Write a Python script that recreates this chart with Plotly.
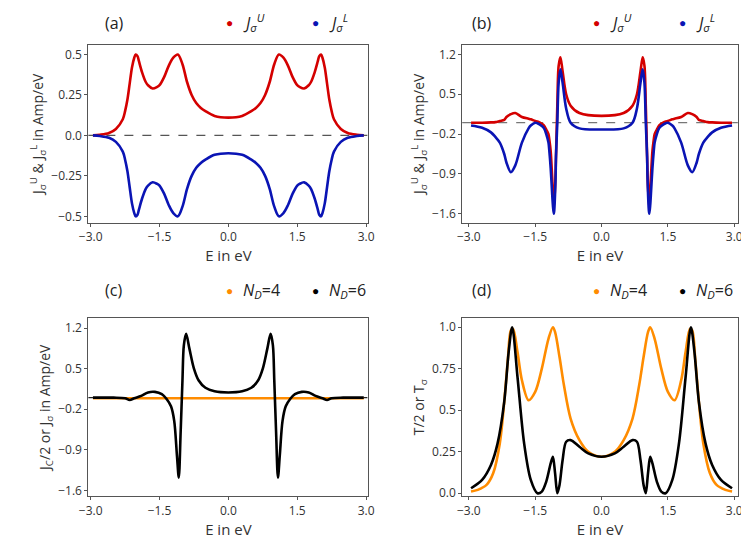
import plotly.graph_objects as go

# energies (eV) and values, panel by panel
e_a = [-2.95, -2.8, -2.6, -2.45, -2.3, -2.25, -2.2, -2.15, -2.1, -2.05, -2.02, -1.98, -1.95, -1.88, -1.8, -1.75,
       -1.65, -1.55, -1.5, -1.4, -1.3, -1.2, -1.1, -1.0, -0.9, -0.8, -0.7, -0.6, -0.5, -0.3, 0.0,
       0.3, 0.5, 0.6, 0.7, 0.8, 0.9, 1.0, 1.1, 1.2, 1.3, 1.4, 1.5, 1.55, 1.65, 1.75, 1.8, 1.88,
       1.95, 1.98, 2.02, 2.05, 2.1, 2.15, 2.2, 2.25, 2.3, 2.45, 2.6, 2.8, 2.95]
ju_a = [0.0, 0.004, 0.015, 0.04, 0.10, 0.15, 0.22, 0.32, 0.42, 0.48, 0.50, 0.49, 0.46, 0.39, 0.33, 0.31,
        0.29, 0.30, 0.31, 0.36, 0.43, 0.48, 0.50, 0.44, 0.33, 0.25, 0.20, 0.17, 0.15, 0.12, 0.11,
        0.12, 0.15, 0.17, 0.20, 0.25, 0.33, 0.44, 0.50, 0.48, 0.43, 0.36, 0.31, 0.30, 0.29, 0.31,
        0.33, 0.39, 0.46, 0.49, 0.50, 0.48, 0.42, 0.32, 0.22, 0.15, 0.10, 0.04, 0.015, 0.004, 0.0]
jl_a = [-v for v in ju_a]

e_b = [-2.95, -2.7, -2.5, -2.4, -2.3, -2.2, -2.15, -2.05, -1.95, -1.8, -1.65, -1.6, -1.5, -1.45,
       -1.35, -1.3, -1.25, -1.2, -1.18, -1.15, -1.12, -1.1, -1.08, -1.07, -1.04, -1.03, -1.0,
       -0.97, -0.93, -0.88, -0.8, -0.7, -0.5, 0.0, 0.5, 0.7, 0.8, 0.88, 0.93, 0.97, 1.0, 1.03,
       1.04, 1.07, 1.08, 1.1, 1.12, 1.15, 1.18, 1.2, 1.25, 1.3, 1.35, 1.45, 1.5, 1.6, 1.65, 1.8,
       1.95, 2.05, 2.15, 2.2, 2.3, 2.4, 2.5, 2.7, 2.95]
ju_b = [0.0, 0.0, 0.005, 0.01, 0.03, 0.05, 0.10, 0.15, 0.17, 0.10, 0.07, 0.06, 0.03, 0.02,
        -0.02, -0.05, -0.12, -0.2, -0.3, -0.5, -0.9, -1.2, -1.38, -1.45, -0.9, -0.6, 0.3,
        1.0, 1.15, 0.9, 0.5, 0.3, 0.17, 0.12, 0.17, 0.3, 0.5, 0.9, 1.15, 1.0, 0.3, -0.6,
        -0.9, -1.45, -1.38, -1.2, -0.9, -0.5, -0.3, -0.2, -0.12, -0.05, -0.02, 0.02, 0.03, 0.06, 0.07, 0.10,
        0.17, 0.15, 0.10, 0.05, 0.03, 0.01, 0.005, 0.0, 0.0]
jl_b = [-0.05, -0.09, -0.17, -0.25, -0.35, -0.55, -0.7, -0.87, -0.75, -0.35, -0.1, -0.05, 0.0, -0.01,
        -0.06, -0.1, -0.2, -0.35, -0.5, -0.8, -1.2, -1.45, -1.6, -1.55, -1.0, -0.6, 0.0,
        0.7, 0.94, 0.7, 0.25, 0.0, -0.1, -0.12, -0.1, 0.0, 0.25, 0.7, 0.94, 0.7, 0.0, -0.6,
        -1.0, -1.55, -1.6, -1.45, -1.2, -0.8, -0.5, -0.35, -0.2, -0.1, -0.06, -0.01, 0.0, -0.05, -0.1, -0.35,
        -0.75, -0.87, -0.7, -0.55, -0.35, -0.25, -0.17, -0.09, -0.05]

e_c = [-2.95, -2.5, -2.25, -2.15, -2.05, -1.9, -1.75, -1.6, -1.45, -1.35, -1.25, -1.18, -1.12,
       -1.08, -1.04, -1.0, -0.97, -0.92, -0.85, -0.75, -0.65, -0.5, -0.3, 0.0, 0.3, 0.5, 0.65,
       0.75, 0.85, 0.92, 0.97, 1.0, 1.04, 1.08, 1.12, 1.18, 1.25, 1.35, 1.45, 1.6, 1.75, 1.9,
       2.05, 2.15, 2.25, 2.5, 2.95]
jc_nd6 = [0.0, 0.0, -0.01, -0.04, -0.01, 0.03, 0.09, 0.10, 0.06, -0.02, -0.15, -0.4, -1.0,
          -1.38, -0.6, 0.3, 0.9, 1.1, 0.85, 0.5, 0.3, 0.17, 0.11, 0.09, 0.11, 0.17, 0.3,
          0.5, 0.85, 1.1, 0.9, 0.3, -0.6, -1.38, -1.0, -0.4, -0.15, -0.02, 0.06, 0.10, 0.09, 0.03,
          -0.01, -0.04, -0.01, 0.0, 0.0]
jc_nd4 = [-0.01] * len(e_c)

e_d4 = [-2.95, -2.8, -2.6, -2.45, -2.3, -2.2, -2.12, -2.05, -2.0, -1.9, -1.8, -1.65, -1.5, -1.35,
        -1.2, -1.1, -1.05, -0.95, -0.85, -0.7, -0.5, -0.3, 0.0, 0.3, 0.5, 0.7, 0.85, 0.95, 1.05,
        1.1, 1.2, 1.35, 1.5, 1.65, 1.8, 1.9, 2.0, 2.05, 2.12, 2.2, 2.3, 2.45, 2.6, 2.8, 2.95]
t_nd4 = [0.01, 0.02, 0.05, 0.12, 0.3, 0.55, 0.8, 0.98, 0.99, 0.85, 0.68, 0.56, 0.61, 0.75,
         0.93, 1.0, 0.97, 0.82, 0.65, 0.45, 0.32, 0.25, 0.22, 0.25, 0.32, 0.45, 0.65, 0.82, 0.97,
         1.0, 0.93, 0.75, 0.61, 0.56, 0.68, 0.85, 0.99, 0.98, 0.8, 0.55, 0.3, 0.12, 0.05, 0.02, 0.01]

e_d6 = [-2.95, -2.7, -2.5, -2.35, -2.2, -2.1, -2.02, -1.9, -1.75, -1.6, -1.45, -1.35, -1.25,
        -1.15, -1.1, -1.05, -1.0, -0.95, -0.88, -0.8, -0.7, -0.5, -0.3, 0.0, 0.3, 0.5, 0.7, 0.8,
        0.88, 0.95, 1.0, 1.05, 1.1, 1.15, 1.25, 1.35, 1.45, 1.6, 1.75, 1.9, 2.02, 2.1, 2.2,
        2.35, 2.5, 2.7, 2.95]
t_nd6 = [0.03, 0.08, 0.17, 0.3, 0.55, 0.85, 1.0, 0.7, 0.3, 0.08, 0.0, 0.01, 0.07,
         0.18, 0.22, 0.12, 0.0, 0.05, 0.2, 0.31, 0.32, 0.28, 0.24, 0.22, 0.24, 0.28, 0.32, 0.31,
         0.2, 0.05, 0.0, 0.12, 0.22, 0.18, 0.07, 0.01, 0.0, 0.08, 0.3, 0.7, 1.0, 0.85, 0.55,
         0.3, 0.17, 0.08, 0.03]

x_ticks = [-3.0, -1.5, 0.0, 1.5, 3.0]
RED, BLUE, ORANGE, BLACK = "#d40000", "#0a14b4", "#ff8c00", "#000000"
FONT = "Open Sans, Arial, sans-serif"

fig = go.Figure()
panels = [
    ("x", "y", [(e_a, ju_a, RED), (e_a, jl_a, BLUE)]),
    ("x2", "y2", [(e_b, ju_b, RED), (e_b, jl_b, BLUE)]),
    ("x3", "y3", [(e_c, jc_nd4, ORANGE), (e_c, jc_nd6, BLACK)]),
    ("x4", "y4", [(e_d4, t_nd4, ORANGE), (e_d6, t_nd6, BLACK)]),
]
for xa, ya, series in panels:
    for xs, ys, col in series:
        fig.add_trace(go.Scatter(x=xs, y=ys, xaxis=xa, yaxis=ya, mode="lines",
                                 line=dict(color=col, width=2.6, shape="spline", smoothing=0.9),
                                 showlegend=False, hoverinfo="skip"))

# dashed zero lines
for xa, ya, col in [("x", "y", "#555"), ("x2", "y2", "#777"), ("x3", "y3", "#222")]:
    fig.add_shape(type="line", xref=xa + " domain", yref=ya, x0=0, x1=1, y0=0, y1=0,
                  line=dict(color=col, width=1.2, dash="dash"), layer="below")

axis_common = dict(showgrid=False, zeroline=False, showline=True, mirror=True,
                   linecolor="#555", linewidth=1, ticks="outside", ticklen=3,
                   tickcolor="#555", tickfont=dict(size=12, color="#333", family=FONT))
xd_left, xd_right = [0.096, 0.478], [0.606, 0.982]
yd_top, yd_bot = [0.597, 0.931], [0.084, 0.418]
xtitle = dict(text="E in eV", font=dict(size=15, color="#333", family=FONT), standoff=4)
ytitle_ab = "J<sub>σ</sub><sup>U</sup> & J<sub>σ</sub><sup>L</sup> in Amp/eV"
ytitle_c = "J<sub>C</sub>/2 or J<sub>σ</sub> in Amp/eV"
ytitle_d = "T/2 or T<sub>σ</sub>"
tf = dict(size=14, color="#333", family=FONT)

fig.update_layout(
    width=749, height=538, margin=dict(l=0, r=0, t=0, b=0),
    plot_bgcolor="white", paper_bgcolor="white",
    xaxis=dict(domain=xd_left, anchor="y", range=[-3.05, 3.05], tickvals=x_ticks,
               tickformat=".1f", title=xtitle, **axis_common),
    yaxis=dict(domain=yd_top, anchor="x", range=[-0.54, 0.56],
               tickvals=[-0.5, -0.25, 0.0, 0.25, 0.5], ticktext=["−0.5", "−0.25", "0.0", "0.25", "0.5"],
               title=dict(text=ytitle_ab, font=tf, standoff=4), **axis_common),
    xaxis2=dict(domain=xd_right, anchor="y2", range=[-3.15, 3.08], tickvals=x_ticks,
                tickformat=".1f", title=xtitle, **axis_common),
    yaxis2=dict(domain=yd_top, anchor="x2", range=[-1.76, 1.37],
                tickvals=[-1.6, -0.9, -0.2, 0.5, 1.2], ticktext=["−1.6", "−0.9", "−0.2", "0.5", "1.2"],
                title=dict(text=ytitle_ab, font=tf, standoff=4), **axis_common),
    xaxis3=dict(domain=xd_left, anchor="y3", range=[-3.05, 3.05], tickvals=x_ticks,
                tickformat=".1f", title=xtitle, **axis_common),
    yaxis3=dict(domain=yd_bot, anchor="x3", range=[-1.70, 1.37],
                tickvals=[-1.6, -0.9, -0.2, 0.5, 1.2], ticktext=["−1.6", "−0.9", "−0.2", "0.5", "1.2"],
                title=dict(text=ytitle_c, font=tf, standoff=4), **axis_common),
    xaxis4=dict(domain=xd_right, anchor="y4", range=[-3.15, 3.08], tickvals=x_ticks,
                tickformat=".1f", title=xtitle, **axis_common),
    yaxis4=dict(domain=yd_bot, anchor="x4", range=[-0.018, 1.054],
                tickvals=[0.0, 0.25, 0.5, 0.75, 1.0], ticktext=["0.0", "0.25", "0.5", "0.75", "1.0"],
                title=dict(text=ytitle_d, font=tf, standoff=4), **axis_common),
)

# panel labels and header legends
def txt(x, y, s, size=15, color="#222"):
    fig.add_annotation(x=x / 749, y=1 - y / 538, xref="paper", yref="paper", text=s,
                       showarrow=False, xanchor="left", yanchor="middle",
                       font=dict(size=size, color=color, family=FONT))

ju_lbl, jl_lbl = "<i>J</i><sub><i>σ</i></sub><sup><i>U</i></sup>", "<i>J</i><sub><i>σ</i></sub><sup><i>L</i></sup>"
nd4, nd6 = "<i>N</i><sub><i>D</i></sub>=4", "<i>N</i><sub><i>D</i></sub>=6"
for ox, oy, lab, l1, c1, l2, c2 in [(0, 0, "(a)", ju_lbl, RED, jl_lbl, BLUE),
                                    (375, 0, "(b)", ju_lbl, RED, jl_lbl, BLUE),
                                    (0, 270, "(c)", nd4, ORANGE, nd6, BLACK),
                                    (375, 270, "(d)", nd4, ORANGE, nd6, BLACK)]:
    txt(ox + 87, oy + 15, lab, size=16)
    txt(ox + 210, oy + 15, "●", size=12, color=c1)
    txt(ox + 228, oy + 15, l1, size=16)
    txt(ox + 298, oy + 15, "●", size=12, color=c2)
    txt(ox + 316, oy + 15, l2, size=16)

fig.write_html("out.html")
